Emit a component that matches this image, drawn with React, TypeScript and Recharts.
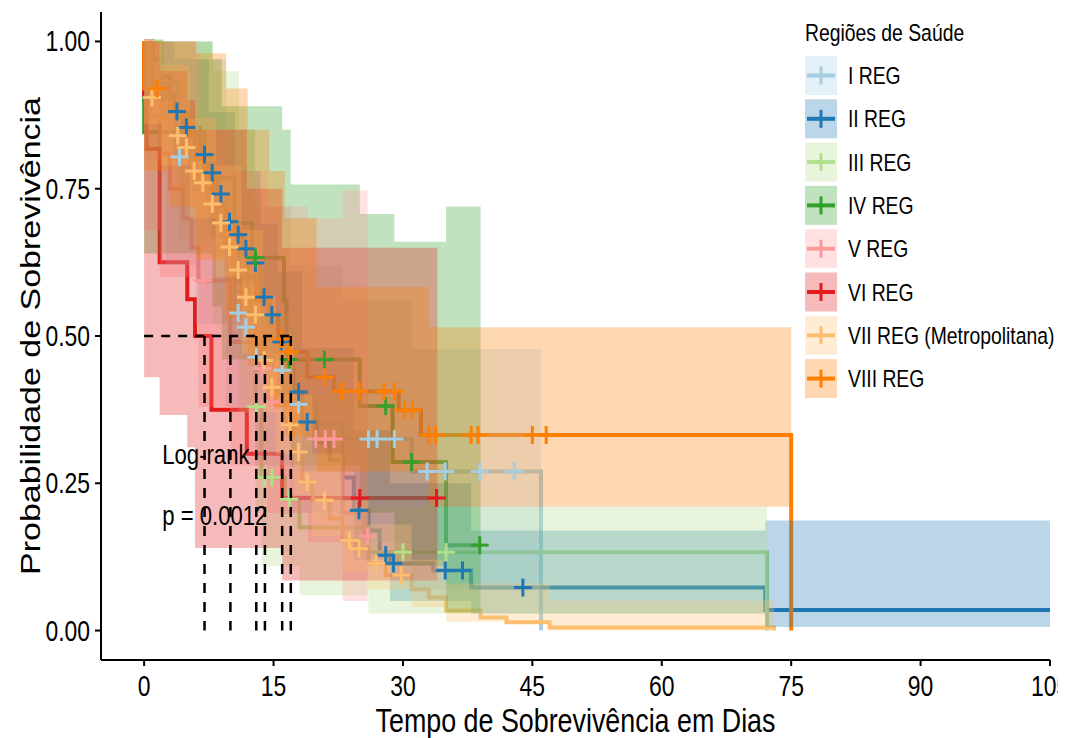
import {
  ComposedChart, Line, Area, Scatter, XAxis, YAxis, ReferenceLine, ReferenceDot, Legend,
} from "recharts";

// R output was squeezed horizontally, so text gets a scaleX
const SQ = 0.79;
const FONT = "'Liberation Sans', Arial, sans-serif";

const NAMES = ["I REG", "II REG", "III REG", "IV REG", "V REG", "VI REG", "VII REG (Metropolitana)", "VIII REG"];
const COLORS = ["#A6CEE3", "#1F78B4", "#B2DF8A", "#33A02C", "#FB9A99", "#E31A1C", "#FDBF6F", "#FF7F00"];

const X_TICKS = [0, 15, 30, 45, 60, 75, 90, 105];
const Y_TICKS = [0, 0.25, 0.5, 0.75, 1];
const MEDIANS = [7, 10, 13, 14, 16, 17];

// I REG
const I_T = [0, 1, 2.5, 3.5, 6, 8, 9.5, 10.5, 11.5, 12.8, 15, 17, 20, 23, 31, 46];
const I_S = [1, 0.93, 0.87, 0.804, 0.75, 0.67, 0.6, 0.539, 0.515, 0.464, 0.442, 0.384, 0.35, 0.325, 0.27, 0];
const I_BT = [0, 2.5, 6, 9.5, 12.8, 17, 23, 31, 46];
const I_LO = [0.8, 0.62, 0.52, 0.38, 0.28, 0.2, 0.15, 0.07, 0.07];
const I_HI = [1, 1, 0.97, 0.85, 0.72, 0.62, 0.56, 0.478, 0.478];
const I_CT = [4.1, 10.9, 11.8, 13, 16, 17.9, 26, 27, 29, 32.8, 34.9, 38.9, 42.9];
const I_CS = [0.804, 0.539, 0.515, 0.464, 0.442, 0.384, 0.325, 0.325, 0.325, 0.27, 0.27, 0.27, 0.27];

// II REG
const II_T = [0, 1, 2, 3, 3.5, 4.5, 6.5, 7.5, 8.5, 9.5, 10.5, 11.5, 12.5, 13.5, 14.5, 15.5, 16.5, 17.3, 18.3, 20, 21.5, 23, 24.3, 26, 27.3, 28.5, 33.5, 37.9, 72, 105];
const II_S = [1, 0.97, 0.94, 0.91, 0.881, 0.854, 0.808, 0.777, 0.741, 0.694, 0.672, 0.648, 0.624, 0.566, 0.536, 0.49, 0.45, 0.405, 0.354, 0.32, 0.29, 0.26, 0.204, 0.17, 0.128, 0.114, 0.102, 0.073, 0.035, 0.035];
const II_BT = [0, 3.5, 7.5, 10.5, 13.5, 15.5, 18.3, 24.3, 28.5, 37.9, 72, 105];
const II_LO = [0.9, 0.8, 0.69, 0.59, 0.47, 0.4, 0.27, 0.12, 0.05, 0.029, 0.006, 0.006];
const II_HI = [1, 0.97, 0.88, 0.78, 0.69, 0.61, 0.48, 0.34, 0.25, 0.17, 0.187, 0.187];
const II_CT = [3.8, 4.9, 7, 7.9, 8.9, 9.9, 10.9, 11.8, 12.9, 13.9, 14.8, 15.9, 17.9, 18.9, 24.9, 28, 28.9, 34.9, 36.9, 43.9];
const II_CS = [0.881, 0.854, 0.808, 0.777, 0.741, 0.694, 0.672, 0.648, 0.624, 0.566, 0.536, 0.49, 0.405, 0.354, 0.204, 0.128, 0.114, 0.102, 0.102, 0.073];

// III REG
const III_T = [0, 2, 4, 6, 8, 9.5, 11, 12, 12.9, 13.6, 16.3, 18, 26, 72.2];
const III_S = [1, 0.93, 0.87, 0.8, 0.74, 0.68, 0.6, 0.54, 0.38, 0.26, 0.223, 0.175, 0.133, 0];
const III_BT = [0, 4, 8, 11, 12.9, 13.6, 18, 26, 72.2];
const III_LO = [0.82, 0.66, 0.52, 0.37, 0.2, 0.11, 0.06, 0.029, 0.029];
const III_HI = [1, 1, 0.95, 0.85, 0.68, 0.54, 0.4, 0.21, 0.21];
const III_CT = [13, 13.9, 14.8, 16.8, 30, 35];
const III_CS = [0.38, 0.26, 0.26, 0.223, 0.133, 0.133];

// IV REG
const IV_T = [0, 0, 7, 10.5, 12.5, 16.2, 16.5, 25, 28.8, 35, 39];
const IV_S = [1, 0.846, 0.769, 0.692, 0.633, 0.56, 0.46, 0.381, 0.286, 0.145, 0.145];
const IV_BT = [0, 7.9, 9, 16, 17, 25, 29, 35, 39];
const IV_LO = [0.64, 0.55, 0.46, 0.38, 0.28, 0.2, 0.11, 0.03, 0.03];
const IV_HI = [1, 0.97, 0.89, 0.85, 0.757, 0.707, 0.66, 0.72, 0.72];
const IV_CT = [12.9, 16.8, 20.9, 28, 31, 38.9];
const IV_CS = [0.633, 0.46, 0.46, 0.381, 0.286, 0.145];

// V REG
const V_T = [0, 0.8, 1.8, 3, 4.5, 5.5, 6.3, 10, 13.3, 14.3, 17, 19, 23, 25.5, 25.9];
const V_S = [1, 0.875, 0.81, 0.75, 0.7, 0.65, 0.594, 0.49, 0.445, 0.388, 0.35, 0.325, 0.2, 0.16, 0.16];
const V_BT = [0, 1.8, 6.3, 10, 14.3, 19, 23, 25.9];
const V_LO = [0.68, 0.6, 0.38, 0.28, 0.2, 0.15, 0.05, 0.05];
const V_HI = [1, 1, 0.85, 0.78, 0.72, 0.7, 0.747, 0.747];
const V_CT = [6.8, 13.7, 14.8, 19.9, 21, 22, 25.9];
const V_CS = [0.594, 0.445, 0.388, 0.325, 0.325, 0.325, 0.16];

// VI REG
const VI_T = [0, 0, 0.3, 1.8, 5, 5.9, 7.8, 11.9, 16, 34];
const VI_S = [1, 0.909, 0.818, 0.625, 0.5625, 0.5, 0.375, 0.3, 0.225, 0.225];
const VI_BT = [0, 1.8, 5, 5.9, 11.9, 16, 34];
const VI_LO = [0.43, 0.366, 0.311, 0.14, 0.14, 0.085, 0.085];
const VI_HI = [1, 0.95, 0.9, 0.85, 0.75, 0.65, 0.65];
const VI_CT = [25, 33.9];
const VI_CS = [0.225, 0.225];

// VII REG (Metropolitana)
const VII_T = [0, 0.3, 0.7, 2, 3, 4.5, 5.3, 6.3, 7.3, 8.3, 9.3, 10.3, 11.3, 12.3, 13, 13.8, 14.3, 15.3, 16.3, 17.3, 18.3, 19.5, 21.5, 23, 24.5, 26, 28, 31, 33, 35, 39, 42, 47, 73];
const VII_S = [1, 0.95, 0.905, 0.87, 0.84, 0.82, 0.78, 0.76, 0.724, 0.692, 0.651, 0.612, 0.566, 0.536, 0.505, 0.459, 0.413, 0.38, 0.349, 0.303, 0.252, 0.221, 0.19, 0.153, 0.139, 0.114, 0.094, 0.07, 0.056, 0.034, 0.022, 0.014, 0.005, 0];
const VII_BT = [0, 2, 5.3, 8.3, 11.3, 13.8, 15.3, 17.3, 19.5, 23, 26, 31, 35, 47, 73];
const VII_LO = [0.86, 0.79, 0.7, 0.6, 0.47, 0.37, 0.3, 0.23, 0.16, 0.1, 0.07, 0.04, 0.015, 0, 0];
const VII_HI = [1, 0.96, 0.87, 0.79, 0.68, 0.57, 0.49, 0.4, 0.3, 0.22, 0.18, 0.12, 0.08, 0.051, 0.048];
const VII_CT = [0.9, 3.9, 4.9, 5.8, 6.8, 7.9, 8.9, 9.9, 10.9, 11.8, 12.9, 13.9, 14.8, 16.9, 17.9, 18.9, 20.9, 23.8, 24.9, 26.9, 29.8];
const VII_CS = [0.905, 0.84, 0.82, 0.78, 0.76, 0.724, 0.692, 0.651, 0.612, 0.566, 0.536, 0.459, 0.413, 0.349, 0.303, 0.252, 0.221, 0.153, 0.139, 0.114, 0.094];

// VIII REG
const VIII_T = [0, 0, 3, 5, 6, 7, 8, 9.5, 11, 12, 13, 14.5, 15.5, 16.3, 18.9, 22, 29.5, 32.1, 75];
const VIII_S = [1, 0.92, 0.88, 0.84, 0.8, 0.76, 0.72, 0.68, 0.64, 0.6, 0.56, 0.52, 0.495, 0.473, 0.43, 0.406, 0.374, 0.332, 0];
const VIII_BT = [0, 3, 6, 9.5, 12, 14.5, 16.3, 20, 33, 75];
const VIII_LO = [0.78, 0.72, 0.63, 0.53, 0.45, 0.38, 0.33, 0.27, 0.21, 0.21];
const VIII_HI = [1, 1, 0.98, 0.92, 0.85, 0.78, 0.7, 0.583, 0.515, 0.515];
const VIII_CT = [1.5, 15.9, 16.8, 20.9, 22.9, 24.9, 27.8, 29, 30.2, 31.1, 33, 33.8, 37.9, 38.7, 45, 46.6];
const VIII_CS = [0.92, 0.495, 0.473, 0.43, 0.406, 0.406, 0.406, 0.406, 0.374, 0.374, 0.332, 0.332, 0.332, 0.332, 0.332, 0.332];

const GROUPS = [
  [I_T, I_S, I_BT, I_LO, I_HI, I_CT, I_CS],
  [II_T, II_S, II_BT, II_LO, II_HI, II_CT, II_CS],
  [III_T, III_S, III_BT, III_LO, III_HI, III_CT, III_CS],
  [IV_T, IV_S, IV_BT, IV_LO, IV_HI, IV_CT, IV_CS],
  [V_T, V_S, V_BT, V_LO, V_HI, V_CT, V_CS],
  [VI_T, VI_S, VI_BT, VI_LO, VI_HI, VI_CT, VI_CS],
  [VII_T, VII_S, VII_BT, VII_LO, VII_HI, VII_CT, VII_CS],
  [VIII_T, VIII_S, VIII_BT, VIII_LO, VIII_HI, VIII_CT, VIII_CS],
].map(([t, s, bt, lo, hi, ct, cs], i) => ({
  name: NAMES[i],
  color: COLORS[i],
  curve: t.map((x, j) => ({ t: x, s: s[j] })),
  band: bt.map((x, j) => ({ t: x, r: [lo[j], hi[j]] })),
  cens: ct.map((x, j) => ({ t: x, s: cs[j] })),
}));

function sq(x: number, y: number, extra = "") {
  return `translate(${x},${y}) scale(${SQ},1)${extra}`;
}

function Plus(props: any) {
  const { cx, cy, color } = props;
  if (cx == null || cy == null) return null;
  return (
    <g stroke={color} strokeWidth={3}>
      <line x1={cx - 9} x2={cx + 9} y1={cy} y2={cy} />
      <line x1={cx} x2={cx} y1={cy - 9} y2={cy + 9} />
    </g>
  );
}

function XTick(props: any) {
  const { x, y, payload } = props;
  return (
    <text transform={sq(x, y + 30)} textAnchor="middle" fontSize={29} fontFamily={FONT} fill="#000">
      {payload.value}
    </text>
  );
}

function YTick(props: any) {
  const { x, y, payload } = props;
  return (
    <text transform={sq(x - 5, y + 10)} textAnchor="end" fontSize={29} fontFamily={FONT} fill="#000">
      {Number(payload.value).toFixed(2)}
    </text>
  );
}

function XTitle(props: any) {
  const vb = props.viewBox;
  return (
    <text transform={sq(vb.x + vb.width / 2, vb.y + 72)} textAnchor="middle" fontSize={34} fontFamily={FONT} fill="#000">
      Tempo de Sobrevivência em Dias
    </text>
  );
}

function YTitle(props: any) {
  const vb = props.viewBox;
  return (
    <text transform={sq(32, vb.y + vb.height / 2, " rotate(-90)")} textAnchor="middle" fontSize={34} fontFamily={FONT} fill="#000">
      Probabilidade de Sobrevivência
    </text>
  );
}

function DotText(props: any) {
  const vb = props.viewBox;
  return (
    <text transform={sq(vb.x, vb.y)} fontSize={28} fontFamily={FONT} fill="#000">
      {props.text}
    </text>
  );
}

function LegendBox() {
  return (
    <svg width={266} height={400} style={{ display: "block" }}>
      <text transform={sq(5, 31)} fontSize={24.5} fontFamily={FONT} fill="#000">Regiões de Saúde</text>
      {NAMES.map((n, i) => {
        const y0 = 46 + i * 43.3;
        const yc = y0 + 19.5;
        return (
          <g key={n}>
            <rect x={5} y={y0} width={32} height={39} fill={COLORS[i]} fillOpacity={0.3} />
            <line x1={7} x2={35} y1={yc} y2={yc} stroke={COLORS[i]} strokeWidth={4} />
            <line x1={21} x2={21} y1={yc - 9} y2={yc + 9} stroke={COLORS[i]} strokeWidth={3} />
            <text transform={sq(48, yc + 8.5)} fontSize={24.5} fontFamily={FONT} fill="#000">{n}</text>
          </g>
        );
      })}
    </svg>
  );
}

export default function App() {
  return (
    <div style={{ width: 1058, height: 730 }}>
      <ComposedChart width={1058} height={730} margin={{ top: 4, right: 16, bottom: 0, left: 0 }}>
        <XAxis
          dataKey="t"
          type="number"
          domain={[-5, 105]}
          ticks={X_TICKS}
          allowDataOverflow
          height={78}
          tickSize={6}
          tickMargin={0}
          axisLine={{ stroke: "#000", strokeWidth: 2 }}
          tickLine={{ stroke: "#000", strokeWidth: 2 }}
          tick={<XTick />}
          label={<XTitle />}
        />
        <YAxis
          type="number"
          domain={[-0.05, 1.05]}
          ticks={Y_TICKS}
          allowDataOverflow
          width={93}
          tickSize={6}
          tickMargin={0}
          axisLine={{ stroke: "#000", strokeWidth: 2 }}
          tickLine={{ stroke: "#000", strokeWidth: 2 }}
          tick={<YTick />}
          label={<YTitle />}
        />
        {GROUPS.map((g) => (
          <Line
            key={"l" + g.name}
            data={g.curve}
            dataKey="s"
            type="stepAfter"
            stroke={g.color}
            strokeWidth={4}
            dot={false}
            activeDot={false}
            isAnimationActive={false}
            zIndex={90}
          />
        ))}
        {GROUPS.map((g) => (
          <Area
            key={"a" + g.name}
            data={g.band}
            dataKey="r"
            type="stepAfter"
            stroke="none"
            fill={g.color}
            fillOpacity={0.3}
            dot={false}
            activeDot={false}
            isAnimationActive={false}
            zIndex={100}
          />
        ))}
        {GROUPS.map((g) => (
          <Scatter
            key={"c" + g.name}
            data={g.cens}
            dataKey="s"
            shape={(p: any) => <Plus {...p} color={g.color} />}
            isAnimationActive={false}
            zIndex={600}
          />
        ))}
        <ReferenceLine
          segment={[{ x: 0, y: 0.5 }, { x: 17, y: 0.5 }]}
          stroke="#000"
          strokeWidth={2.5}
          strokeDasharray="9 8"
          zIndex={700}
        />
        {MEDIANS.map((m) => (
          <ReferenceLine
            key={"m" + m}
            segment={[{ x: m, y: 0.5 }, { x: m, y: 0 }]}
            stroke="#000"
            strokeWidth={2.5}
            strokeDasharray="10 9"
            zIndex={700}
          />
        ))}
        <ReferenceDot x={2.1} y={0.282} r={0} fill="none" stroke="none" zIndex={700} label={<DotText text="Log-rank" />} />
        <ReferenceDot x={2.1} y={0.179} r={0} fill="none" stroke="none" zIndex={700} label={<DotText text="p = 0.0012" />} />
        <Legend
          layout="vertical"
          align="center"
          verticalAlign="middle"
          content={() => <LegendBox />}
          wrapperStyle={{ position: "absolute", left: 792, top: 2, width: 266, height: 400 }}
        />
      </ComposedChart>
    </div>
  );
}
